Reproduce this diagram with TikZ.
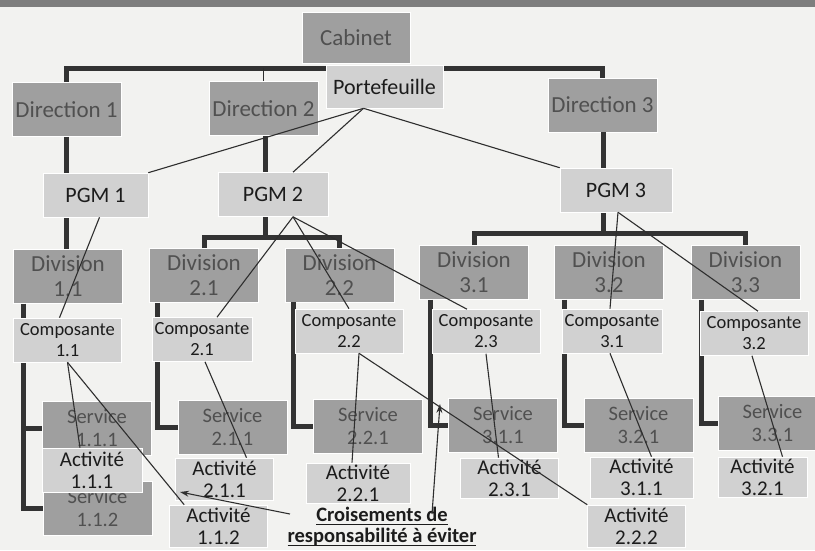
\documentclass[tikz,border=0pt]{standalone}
\usepackage{fontspec}
\setmainfont{Carlito}
\newcommand{\undr}[1]{\leavevmode\setbox0=\hbox{#1}\rlap{\rule[-3.5pt]{\wd0}{1.3pt}}\box0}
\usetikzlibrary{arrows.meta}
\definecolor{paper}{HTML}{F2F2F0}
\definecolor{band}{HTML}{7E7E7E}
\definecolor{boxdark}{HTML}{9F9F9F}
\definecolor{boxlight}{HTML}{D1D1D1}
\definecolor{txtdark}{HTML}{505050}
\definecolor{txtlight}{HTML}{1C1C1C}
\definecolor{busgray}{HTML}{333333}
\definecolor{linkgray}{HTML}{2E2E2E}
\begin{document}
\begin{tikzpicture}
  [x=1pt,y=-1pt,
   box/.style={rectangle,draw=white,line width=0.6pt,inner sep=0pt,align=center},
   darkbox/.style={box,fill=boxdark,text=txtdark,minimum width=109pt,minimum height=54pt,font=\fontsize{23}{25}\selectfont},
   servbox/.style={darkbox,font=\fontsize{20.5}{23}\selectfont},
   pgmbox/.style={box,fill=boxlight,text=txtlight,minimum width=108pt,minimum height=44pt,font=\fontsize{22}{24}\selectfont},
   compbox/.style={pgmbox,font=\fontsize{18.5}{21}\selectfont},
   actbox/.style={pgmbox,minimum width=98pt,minimum height=42pt,font=\fontsize{21}{22}\selectfont},
   bus/.style={draw=busgray,line width=5pt},
   link/.style={draw=linkgray,line width=1.1pt},
   pointer/.style={link,-{Stealth[length=9pt,width=6pt]}}]
  \useasboundingbox (0,0) rectangle (815,550);
  \clip (0,0) rectangle (815,550);
  \fill[paper] (0,0) rectangle (815,550);
  \fill[band] (0,0) rectangle (815,7);

  % junctions of the thick lines
  \coordinate (j0) at (356,68);
  \coordinate (j2) at (265,237);
  \coordinate (j3) at (603,233);

  % top levels
  \node[darkbox] (dir1) at (66.5,109.5) {Direction 1};
  \node[darkbox] (dir2) at (263.5,108.5) {Direction 2};
  \node[darkbox] (dir3) at (602.5,105) {Direction 3};

  \node[darkbox] (div11) at (68,276.5) {Division\\1.1};
  \node[darkbox] (div21) at (204,275.5) {Division\\2.1};
  \node[darkbox] (div22) at (339.5,275) {Division\\2.2};
  \node[darkbox] (div31) at (474,272.5) {Division\\3.1};
  \node[darkbox] (div32) at (609,272.5) {Division\\3.2};
  \node[darkbox] (div33) at (745.5,272.5) {Division\\3.3};

  \node[servbox] (ser111) at (97,428.5) {Service\\1.1.1};
  \node[servbox] (ser112) at (97.5,508) {Service\\1.1.2};
  \node[servbox] (ser211) at (232.5,427.5) {Service\\2.1.1};
  \node[servbox] (ser221) at (368,426.5) {Service\\2.2.1};
  \node[servbox] (ser311) at (503,425) {Service\\3.1.1};
  \node[servbox] (ser321) at (638.5,425) {Service\\3.2.1};
  \node[servbox] (ser331) at (772.5,423.5) {Service\\3.3.1};

  % thick hierarchy lines
  \draw[bus] (dir1.north) |- (j0) -| (dir3.north);
  \draw[bus] (dir1.south) -- (dir1.south |- div11.north);
  \draw[bus] (dir2.south -| j2) -- (j2);
  \draw[bus] (div21.north) |- (j2) -| (div22.north);
  \draw[bus] (dir3.south -| j3) -- (j3);
  \draw[bus] (div31.north) |- (j3) -| (div33.north);
  \draw[link] (j0 -| dir2.north) -- (dir2.north);

  \foreach \d/\s/\x in {div11/ser111/10,div11/ser112/10,div21/ser211/8,div22/ser221/9,
                        div31/ser311/11,div32/ser321/10,div33/ser331/11}
    \draw[bus] ([xshift=\x pt]\d.south west) |- (\s.west);

  % light boxes
  \node[darkbox,minimum width=108pt,minimum height=51pt] (cab) at (356,37.5) {Cabinet};
  \node[pgmbox,minimum width=117pt,minimum height=43pt] (port) at (384.5,86.5) {Portefeuille};

  \node[pgmbox,minimum width=105pt] (pgm1) at (95.5,195) {PGM 1};
  \node[pgmbox,minimum width=110pt] (pgm2) at (273,194.5) {PGM 2};
  \node[pgmbox,minimum width=112pt] (pgm3) at (616,190) {PGM 3};

  \node[compbox] (com11) at (67.5,340) {Composante\\1.1};
  \node[compbox,minimum width=100pt] (com21) at (202,339.5) {Composante\\2.1};
  \node[compbox] (com22) at (349,331) {Composante\\2.2};
  \node[compbox] (com23) at (486,331.5) {Composante\\2.3};
  \node[compbox,minimum width=100pt] (com31) at (612,331) {Composante\\3.1};
  \node[compbox] (com32) at (754,333.5) {Composante\\3.2};

  \node[actbox,minimum width=100pt,minimum height=44pt] (act111) at (92,470) {Activité\\1.1.1};
  \node[actbox] (act112) at (218.5,526) {Activité\\1.1.2};
  \node[actbox] (act211) at (224.5,479) {Activité\\2.1.1};
  \node[actbox,minimum width=104pt,minimum height=40pt] (act221) at (358,483) {Activité\\2.2.1};
  \node[actbox] (act222) at (636.5,526) {Activité\\2.2.2};
  \node[actbox,minimum height=40pt] (act231) at (509.5,478) {Activité\\2.3.1};
  \node[actbox,minimum width=103pt,minimum height=41pt] (act311) at (641.5,477.5) {Activité\\3.1.1};
  \node[actbox,minimum width=89pt,minimum height=40pt] (act321) at (762.5,477) {Activité\\3.2.1};

  % responsibility links
  \foreach \a/\sa/\b/\sb in {port.south/-21/pgm1.north east/0,port.south/-21/pgm2.north/20,
                             port.south/-21/pgm3.north west/0,
                             pgm1.south/4/com11.north/-8,
                             pgm2.south/20/com21.north/15,pgm2.south/20/com22.north/0,
                             pgm2.south/20/com23.north/-19,
                             pgm3.south/2/com31.north/-2,pgm3.south/2/com32.north/4,
                             com11.south/0/act111.north/-12,com11.south/0/act112.north west/15,
                             com21.south/3/act211.north/22,
                             com22.south/10/act221.north/-6,com22.south/10/act222.north west/0,
                             com23.south/0/act231.north/-11,
                             com31.south/-2/act311.north/10,
                             com32.south/-2/act321.north/20}
    \draw[link] ([xshift=\sa pt]\a) -- ([xshift=\sb pt]\b);

  % note
  \node[text=txtlight,align=center,font=\bfseries\fontsize{20.5}{21}\selectfont] (lbl) at (382,527)
    {\undr{Croisements de}\\\undr{responsabilité à éviter}};
  \coordinate (tip1) at (180,492);
  \coordinate (tip2) at (440,404);
  \draw[pointer] ([shift={(6pt,-10pt)}]lbl.north west) -- (tip1);
  \draw[pointer] ([shift={(50pt,-10pt)}]lbl.north) -- (tip2);
\end{tikzpicture}
\end{document}
